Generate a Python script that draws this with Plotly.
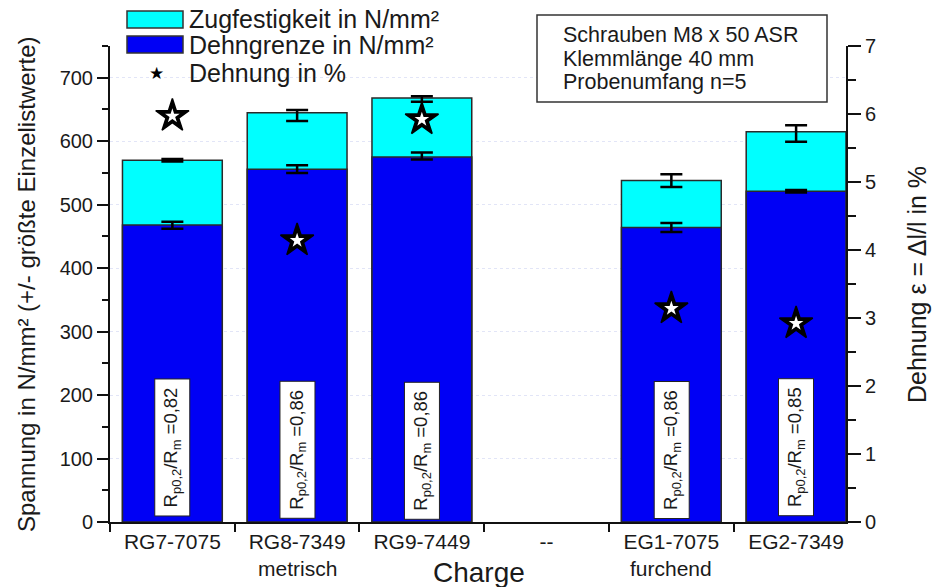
import plotly.graph_objects as go

# ---------------- data ----------------
categories = ["RG7-7075", "RG8-7349", "RG9-7449", "--", "EG1-7075", "EG2-7349"]
rp02 = [468, 556, 575, None, 464, 521]            # Dehngrenze N/mm²
rp02_err_plus = [5, 6, 7, None, 7, 2]
rp02_err_minus = [6, 6, 4, None, 7, 2]
rm = [570, 645, 668, None, 538, 615]              # Zugfestigkeit N/mm²
rm_err_plus = [2, 4, 3, None, 10, 10]
rm_err_minus = [2, 13, 6, None, 10, 16]
dehnung = [5.97, 4.14, 5.92, None, 3.14, 2.92]    # Dehnung in %
ratio_labels = ["0,82", "0,86", "0,86", None, "0,86", "0,85"]
group_labels = ["metrisch", "furchend"]
group_positions = [1, 4]
info_lines = ["Schrauben M8 x 50 ASR", "Klemmlänge 40 mm", "Probenumfang n=5"]
y_ticks = [0, 100, 200, 300, 400, 500, 600, 700]
y2_ticks = [0, 1, 2, 3, 4, 5, 6, 7]

# ---------------- layout geometry ----------------
W, H = 934, 587
L, R, T, B = 110, 88, 46, 65
PW, PH = W - L - R, H - T - B
FONT = "Liberation Sans, Arial, sans-serif"
TXT = "#1a1a1a"

def px_x(x):
    return (x - L) / PW

def px_y(y):
    return (H - B - y) / PH

xs = list(range(len(categories)))

fig = go.Figure()

fig.add_trace(go.Bar(
    x=xs, y=rm, name="Zugfestigkeit in N/mm²", width=0.8,
    marker=dict(color="#00FFFF", line=dict(color="#2a2a2a", width=1.5)),
    error_y=dict(type="data", symmetric=False, array=rm_err_plus, arrayminus=rm_err_minus,
                 color="black", thickness=2.5, width=11),
    showlegend=False))
fig.add_trace(go.Bar(
    x=xs, y=rp02, name="Dehngrenze in N/mm²", width=0.8,
    marker=dict(color="#0000F5", line=dict(color="#2a2a2a", width=1.5)),
    error_y=dict(type="data", symmetric=False, array=rp02_err_plus, arrayminus=rp02_err_minus,
                 color="black", thickness=2.5, width=11),
    showlegend=False))
fig.add_trace(go.Scatter(
    x=xs, y=dehnung, name="Dehnung in %", mode="markers", yaxis="y2",
    marker=dict(symbol="star", size=25, color="black", line=dict(color="black", width=1.5)),
    showlegend=False))
fig.add_trace(go.Scatter(
    x=xs, y=dehnung, name="Dehnung in % (inner)", mode="markers", yaxis="y2",
    marker=dict(symbol="star", size=11, color="white", line=dict(width=0)),
    showlegend=False, hoverinfo="skip"))

annotations = []
shapes = []

# ratio boxes inside bars
ratio_y = [118, 114, 112, None, 114, 118]
for i, lab in enumerate(ratio_labels):
    if lab is None:
        continue
    annotations.append(dict(
        x=xs[i], y=ratio_y[i], xref="x", yref="y",
        text=f"R<sub>p0,2</sub>/R<sub>m</sub> ={lab}",
        textangle=-90, showarrow=False, width=134, height=32,
        bgcolor="white", bordercolor="#222", borderwidth=1, borderpad=1,
        font=dict(family=FONT, size=18.5, color=TXT)))

# group labels under ticks
for g, p in zip(group_labels, group_positions):
    annotations.append(dict(x=p, y=px_y(568), xref="x", yref="paper", text=g,
                            showarrow=False, yanchor="middle",
                            font=dict(family=FONT, size=21, color=TXT)))
annotations.append(dict(x=px_x(479), y=px_y(572), xref="paper", yref="paper", text="Charge",
                        showarrow=False, yanchor="middle",
                        font=dict(family=FONT, size=28, color=TXT)))

# axis titles
annotations.append(dict(x=px_x(26), y=px_y(284), xref="paper", yref="paper",
                        text="Spannung in N/mm² (+/- größte Einzelistwerte)",
                        textangle=-90, showarrow=False, xanchor="center", yanchor="middle",
                        font=dict(family=FONT, size=24, color=TXT)))
annotations.append(dict(x=px_x(917), y=px_y(285), xref="paper", yref="paper",
                        text="Dehnung ε = Δl/l in %",
                        textangle=-90, showarrow=False, xanchor="center", yanchor="middle",
                        font=dict(family=FONT, size=25, color=TXT)))

# info box
shapes.append(dict(type="rect", xref="paper", yref="paper",
                   x0=px_x(537), x1=px_x(827), y0=px_y(102), y1=px_y(15),
                   line=dict(color="#333", width=1.5), fillcolor="white"))
info_y = [35, 58.5, 82]
for line, yc in zip(info_lines, info_y):
    annotations.append(dict(x=px_x(561), y=px_y(yc), xref="paper", yref="paper",
                            text=line, align="left",
                            showarrow=False, xanchor="left", yanchor="middle",
                            font=dict(family=FONT, size=21.5, color=TXT)))

# custom legend
legend_items = [("Zugfestigkeit in N/mm²", "#00FFFF", 19.5),
                ("Dehngrenze in N/mm²", "#0000F5", 44.5)]
for name, col, yc in legend_items:
    shapes.append(dict(type="rect", xref="paper", yref="paper",
                       x0=px_x(127), x1=px_x(183), y0=px_y(yc + 8.5), y1=px_y(yc - 8.5),
                       line=dict(color="#333", width=1.5), fillcolor=col))
    annotations.append(dict(x=px_x(187), y=px_y(yc), xref="paper", yref="paper", text=name,
                            showarrow=False, xanchor="left", yanchor="middle",
                            font=dict(family=FONT, size=25, color=TXT)))
annotations.append(dict(x=px_x(156), y=px_y(73), xref="paper", yref="paper", text="★",
                        showarrow=False, xanchor="center", yanchor="middle",
                        font=dict(family="DejaVu Sans", size=17, color="black")))
annotations.append(dict(x=px_x(187), y=px_y(73), xref="paper", yref="paper", text="Dehnung in %",
                        showarrow=False, xanchor="left", yanchor="middle",
                        font=dict(family=FONT, size=25, color=TXT)))

fig.update_layout(
    width=W, height=H,
    margin=dict(l=L, r=R, t=T, b=B, pad=0),
    paper_bgcolor="white", plot_bgcolor="white",
    barmode="overlay", bargap=0.2,
    font=dict(family=FONT, size=20, color=TXT),
    xaxis=dict(range=[-0.5, 5.4], tickmode="array", tickvals=xs, ticktext=categories,
               ticks="", ticklen=0, showline=True, linecolor="#111", linewidth=2,
               showgrid=False, zeroline=False, tickfont=dict(size=21),
               minor=dict(tickmode="array", tickvals=[-0.5, 0.5, 1.5, 2.5, 3.5, 4.5],
                          ticks="outside", ticklen=8, tickwidth=2, tickcolor="#111",
                          showgrid=False)),
    yaxis=dict(range=[0, 750], tickmode="array", tickvals=y_ticks,
               ticks="outside", ticklen=11, tickwidth=2, tickcolor="#111",
               showline=True, linecolor="#111", linewidth=2, zeroline=False,
               showgrid=True, gridcolor="#e2e5f7", gridwidth=1, griddash="dot",
               tickfont=dict(size=20),
               minor=dict(dtick=50, tick0=0, ticks="outside", ticklen=6, tickwidth=2,
                          tickcolor="#111", showgrid=False)),
    yaxis2=dict(range=[0, 7], overlaying="y", side="right", tickmode="array", tickvals=y2_ticks,
                ticks="outside", ticklen=13, tickwidth=2, tickcolor="#111",
                showline=True, linecolor="#111", linewidth=2, zeroline=False, showgrid=False,
                tickfont=dict(size=20),
                minor=dict(dtick=0.5, tick0=0, ticks="outside", ticklen=8, tickwidth=2,
                           tickcolor="#111", showgrid=False)),
    annotations=annotations,
    shapes=shapes,
    showlegend=False,
)

fig.write_html("out.html")
